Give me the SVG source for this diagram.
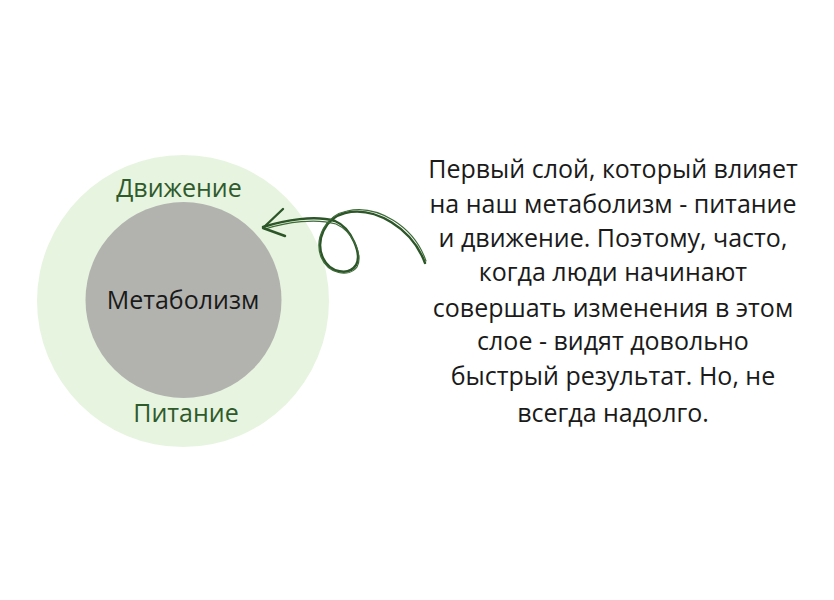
<svg xmlns="http://www.w3.org/2000/svg" width="834" height="600" viewBox="0 0 834 600">
<style>
.lbl{font-family:"Open Sans","Noto Sans",sans-serif;font-size:25px;text-anchor:middle}
.green{fill:#2f5a2c}
.dark{fill:#1a1a1a}
.body{font-family:"Open Sans","Noto Sans",sans-serif;font-size:25px;text-anchor:middle;fill:#1a1a1a}
.conn{fill:none;stroke:#2c5528;stroke-width:2.4;stroke-linecap:round;stroke-linejoin:round}
.conn2{fill:none;stroke:#3d6a37;stroke-width:1.2;stroke-linecap:round;stroke-linejoin:round}
</style>
<rect width="834" height="600" fill="#ffffff"/>
<g id="outer">
<circle cx="183" cy="301" r="146" fill="#e7f4df"/>
<text class="lbl green" x="179" y="197">Движение</text>
<text class="lbl green" x="186" y="422">Питание</text>
</g>
<g id="inner">
<circle cx="183.5" cy="300" r="98" fill="#b2b3af"/>
<text class="lbl dark" x="183" y="309">Метаболизм</text>
</g>
<g id="connectors">
<path class="conn" d="M 263,227 C 285,220 315,215 335,221 C 352,228 362,255 356,265 C 349,276 330,273 323,258 C 315,240 325,218 345,213 C 375,206 412,228 425,263"/>
<path class="conn2" d="M 265,229 C 287,222 316,218 336,224 C 354,232 363,256 357,267 C 349,278 328,274 321,257 C 314,238 326,215 347,211 C 377,204 414,226 426,261"/>
<path class="conn" d="M 283,209 L 263,228 L 285,236"/>
</g>
<g id="note">
<text class="body" x="613" y="178">Первый слой, который влияет</text>
<text class="body" x="613" y="213">на наш метаболизм - питание</text>
<text class="body" x="613" y="247">и движение. Поэтому, часто,</text>
<text class="body" x="613" y="281">когда люди начинают</text>
<text class="body" x="613" y="317">совершать изменения в этом</text>
<text class="body" x="613" y="350">слое - видят довольно</text>
<text class="body" x="613" y="385">быстрый результат. Но, не</text>
<text class="body" x="613" y="422">всегда надолго.</text>
</g>
</svg>
